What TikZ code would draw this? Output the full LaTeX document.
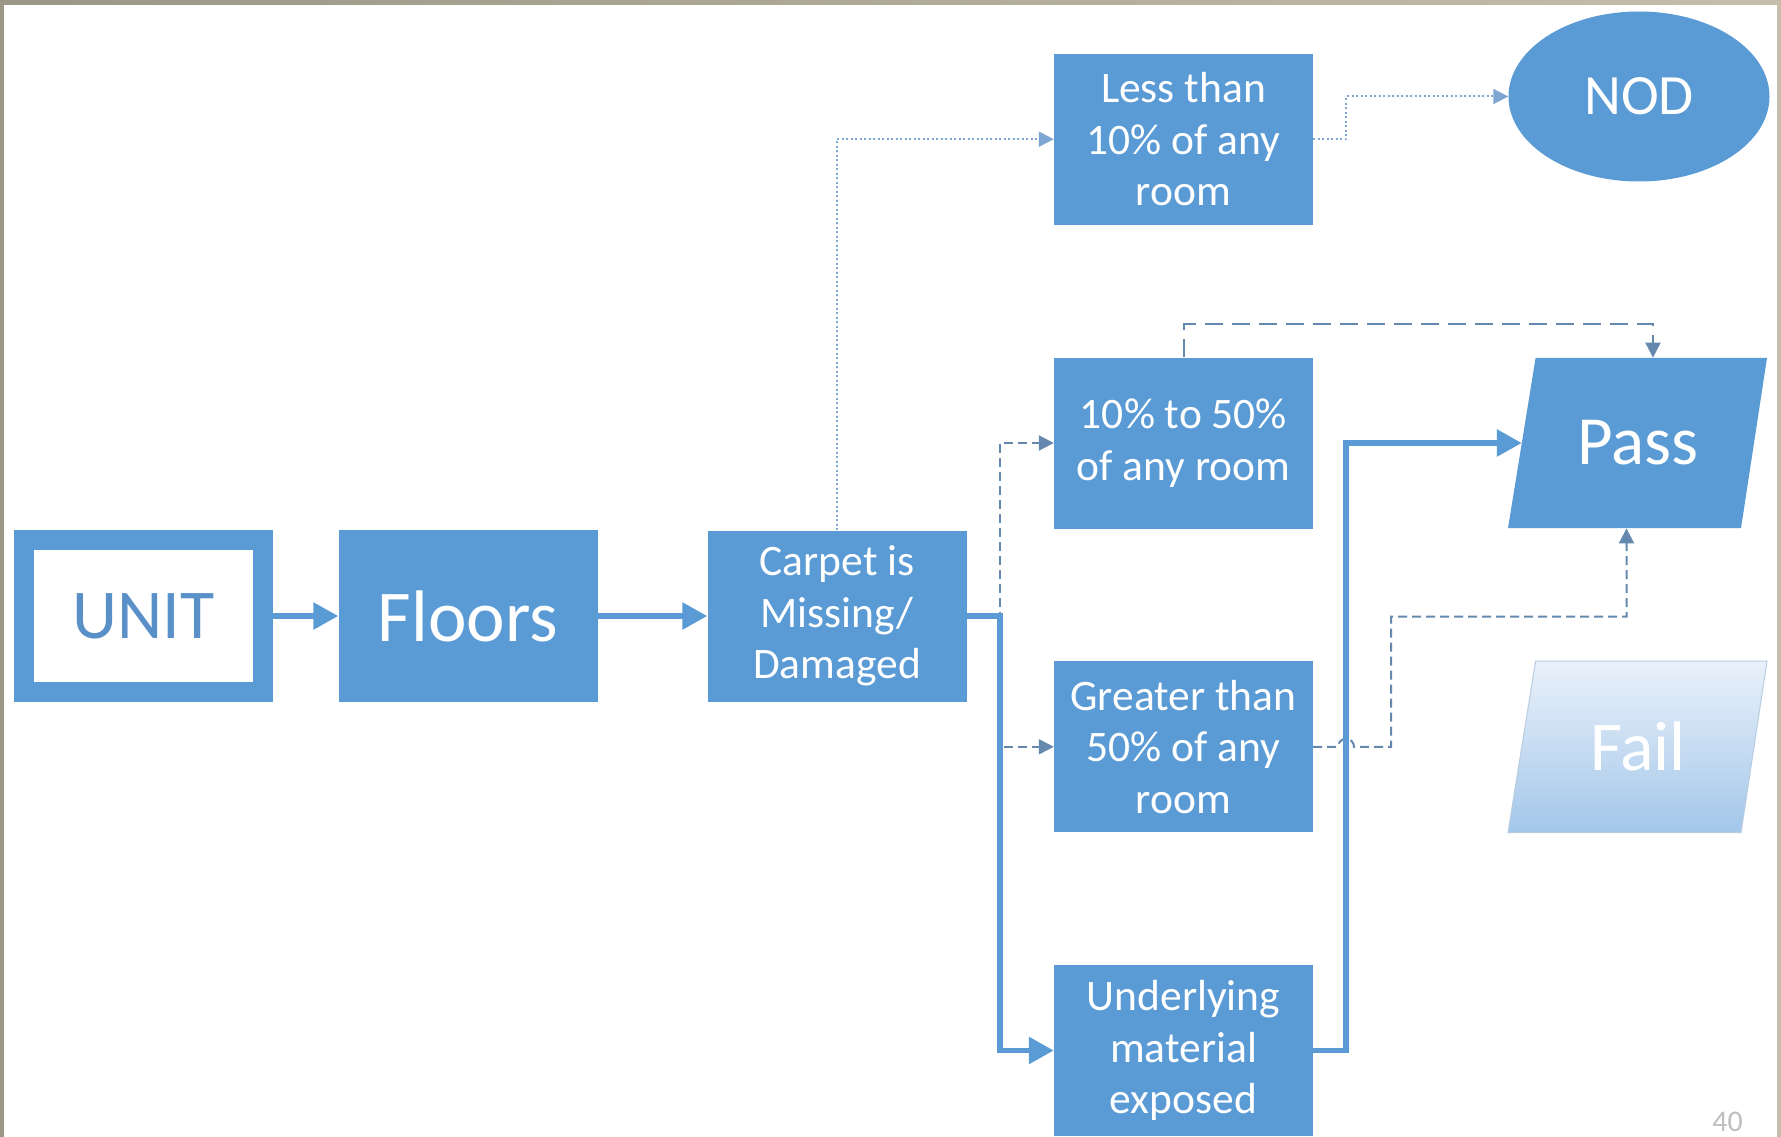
\documentclass[tikz,border=0pt]{standalone}
\usepackage{fontspec}
\setmainfont{Carlito}
\usetikzlibrary{arrows.meta,shapes.geometric,calc}
\definecolor{blu}{HTML}{5B9BD5}
\definecolor{unitblue}{HTML}{5A90C8}
\definecolor{dsh}{HTML}{6588AE}
\definecolor{dotc}{HTML}{7FA6D2}
\definecolor{frameL}{HTML}{9B9686}
\definecolor{frameR}{HTML}{C6BEAB}
\definecolor{failtop}{HTML}{EAF1FA}
\definecolor{failbot}{HTML}{A3C7EA}
\definecolor{failedge}{HTML}{B8CCE2}
\tikzset{
  bigbox/.style={rectangle, fill=blu, minimum width=259pt, minimum height=172pt, inner sep=0pt,
    text=white, font=\fontsize{73}{80}\selectfont},
  smallbox/.style={rectangle, fill=blu, minimum width=259pt, minimum height=171pt, inner sep=0pt,
    text=white, align=center, font=\fontsize{43.5}{51.5}\selectfont},
  thick conn/.style={draw=blu, line width=5.7pt, -{Triangle[length=25pt,width=26pt]}},
  dash conn/.style={draw=dsh, line width=2pt, dash pattern=on 9pt off 5pt, -{Triangle[length=15pt,width=15pt]}},
  long dash conn/.style={draw=dsh, line width=2pt, dash pattern=on 18pt off 9pt, -{Triangle[length=15pt,width=15pt]}},
  dot conn/.style={draw=dotc, line width=2pt, dash pattern=on 2pt off 2.5pt, -{Triangle[length=15pt,width=15pt]}},
}
\begin{document}
\begin{tikzpicture}[x=1pt,y=-1pt]
\useasboundingbox (0,0) rectangle (1781,1137);
% frame
\shade[left color=frameL, right color=frameR] (0,0) rectangle (1781,1137);
\fill[white] (4,5) rectangle (1777,1137);

% nodes
\node[rectangle, draw=blu, line width=20pt, fill=white, minimum width=239pt, minimum height=152pt,
  inner sep=0pt, text=unitblue, font=\fontsize{70}{78}\selectfont] (unit) at (143.5,616) {UNIT};
\node[bigbox] (floors) at (468,616) {Floors};
\node[smallbox] (carpet) at (837,616) {Carpet is\\Missing/\\Damaged};
\node[smallbox] (less) at (1183.5,139.2) {Less than\\10\% of any\\room};
\node[smallbox] (mid) at (1183.5,443) {10\% to 50\%\\of any room};
\node[smallbox] (great) at (1183.5,746.8) {Greater than\\50\% of any\\room};
\node[smallbox] (under) at (1183.5,1050.5) {Underlying\\material\\exposed};
\node[ellipse, fill=blu, minimum width=261pt, minimum height=170pt, inner sep=0pt, text=white,
  font=\fontsize{57}{62}\selectfont] (nod) at (1639,96.5) {NOD};

% Pass parallelogram
\fill[blu] (1535.6,357.8) -- (1767,357.8) -- (1741,528.2) -- (1508,528.2) -- cycle;
\node[rectangle, minimum width=232pt, minimum height=170.4pt, inner sep=0pt, text=white,
  font=\fontsize{69}{74}\selectfont] (pass) at (1638,443) {Pass};
% Fail parallelogram
\shade[top color=failtop, bottom color=failbot, draw=failedge, line width=1pt]
  (1535.6,661) -- (1767,661) -- (1741,832.5) -- (1508,832.5) -- cycle;
\node[rectangle, minimum width=232pt, minimum height=171pt, inner sep=0pt, text=white,
  font=\fontsize{70}{74}\selectfont] (fail) at (1638,746.8) {Fail};

\coordinate (passtop) at ($(pass.north)+(15,0)$);
\coordinate (passbot) at ($(pass.south)+(-11.5,0)$);

% dotted connectors
\draw[dot conn] (carpet.north) |- (less.west);
\draw[dot conn] (less.east) -- ++(33,0) |- (nod.west);

% dashed connectors
\draw[dash conn] (carpet.east) -- ++(33,0) |- (mid.west);
\draw[dash conn] (carpet.east) -- ++(33,0) |- (great.west);
\draw[long dash conn] (mid.north) -- ++(0,-33) -| (passtop);
\draw[dash conn] (great.east) -- (1338,746.8) arc[start angle=180, end angle=360, radius=8]
  -- (1391,746.8) |- (1500,616.7) -| (passbot);

% thick connectors
\draw[thick conn] (unit.east) -- (floors.west);
\draw[thick conn] (floors.east) -- (carpet.west);
\draw[thick conn] (carpet.east) -- ++(33,0) |- (under.west);
\draw[thick conn] (under.east) -- ++(33,0) |- (pass.west);

% page number
\node[text=black!25, font=\fontsize{30}{34}\selectfont] (pg) at (1727.5,1122) {40};
\end{tikzpicture}
\end{document}
